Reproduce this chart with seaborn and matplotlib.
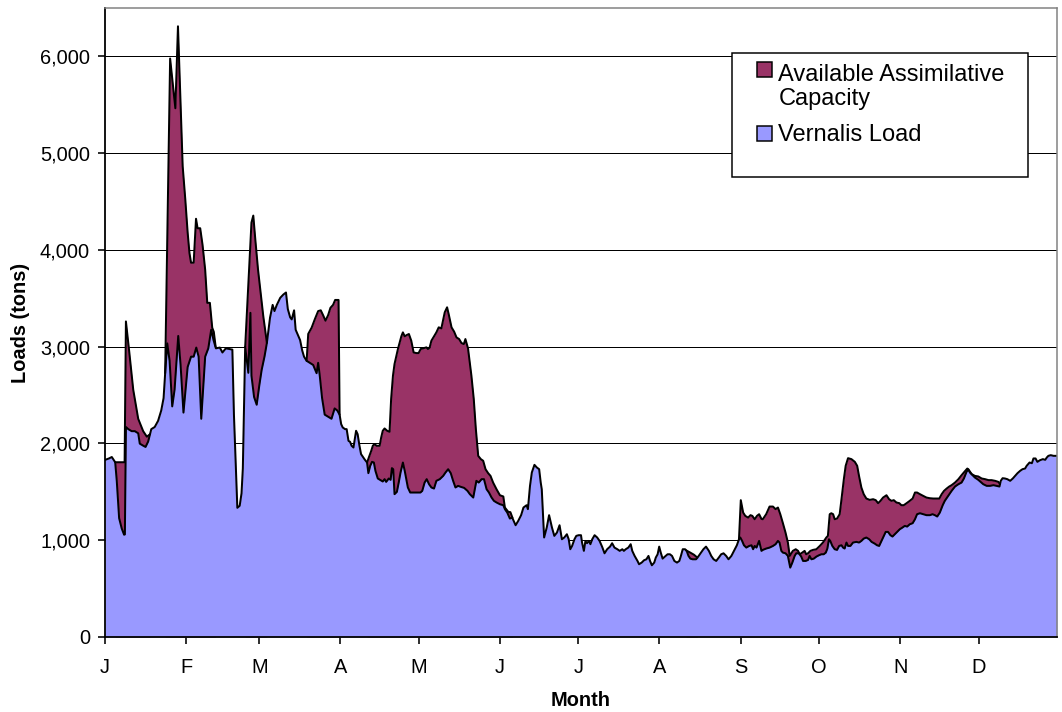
import pandas as pd
import matplotlib
matplotlib.use("Agg")
import matplotlib.pyplot as plt
import seaborn as sns
from matplotlib.patches import Rectangle
from matplotlib.ticker import FuncFormatter

BLUE = "#9999FF"
MAROON = "#993366"

# Vernalis load, tons, by day of year
load_day = [0, 1.5, 2.6, 3.2, 3.9, 4.5, 5.4, 6.4, 7.3, 7.6, 8.0, 8.9, 10.2, 11.4, 12.7, 13.3, 14.6, 15.5,
            16.5, 17.7, 19.0, 20.3, 21.5, 22.4, 23.0, 23.8, 24.7, 25.7, 26.6, 28.0, 28.9, 30.0, 31.6,
            32.9, 33.9, 34.9, 35.8, 36.8, 38.3, 39.5, 40.6, 41.5, 42.4, 43.9, 44.9, 46.2, 48.7, 49.3,
            50.6, 51.5, 52.2, 52.7, 53.6, 54.8, 55.6, 56.0, 57.0, 58.0, 59.0, 59.9, 61.0, 61.9, 63.1,
            64.1, 64.8, 65.7, 67.0, 68.2, 69.2, 69.9, 70.8, 71.4, 72.3, 72.9, 73.6, 74.6, 75.4, 76.1,
            77.1, 78.3, 79.6, 80.9, 81.5, 82.1, 83.0, 84.0, 85.3, 86.6, 87.8, 88.8, 89.7, 90.3, 90.9,
            91.8, 92.4, 93.1, 93.7, 94.3, 95.0, 95.4, 96.0, 96.6, 97.3, 97.9, 99.2, 100.2, 100.7, 101.4,
            102.1, 102.8, 103.4, 104.3, 105.3, 106.2, 106.9, 107.5, 108.5, 109.2, 109.7, 110.2, 110.7,
            111.6, 112.3, 113.0, 113.9, 114.6, 115.2, 115.8, 116.7, 118.0, 119.3, 120.6, 121.3, 122.2,
            123.0, 123.9, 124.8, 125.8, 126.7, 128.0, 129.3, 130.2, 131.2, 132.2, 133.1, 134.0, 135.0,
            136.0, 137.3, 138.6, 139.5, 140.8, 141.4, 142.0, 142.9, 144.0, 144.9, 145.9, 146.8, 147.8,
            148.7, 149.7, 151.0, 152.3, 152.9, 153.8, 154.8, 155.7, 157.0, 158.0, 159.1, 160.0, 161.2,
            161.7, 162.5, 163.2, 164.2, 165.1, 166.0, 166.6, 167.0, 167.9, 168.9, 169.8, 170.9, 171.8,
            172.8, 173.8, 174.7, 175.6, 176.6, 177.3, 177.9, 178.6, 179.5, 180.2, 181.1, 182.0, 182.4,
            183.1, 183.7, 184.3, 185.0, 185.6, 186.3, 187.2, 188.2, 189.1, 190.1, 191.0, 192.0, 193.1,
            193.9, 194.8, 195.9, 196.8, 197.8, 198.4, 199.1, 200.1, 201.0, 201.6, 202.5, 203.6, 204.2,
            205.2, 206.1, 207.0, 207.8, 208.4, 209.1, 210.0, 210.6, 211.3, 211.9, 212.5, 213.2, 214.1,
            215.1, 216.0, 216.8, 217.7, 218.7, 219.6, 220.2, 220.9, 221.8, 222.4, 223.1, 223.8, 224.7,
            226.0, 227.0, 227.9, 228.8, 229.8, 230.9, 231.8, 232.7, 233.7, 234.7, 235.6, 236.5, 237.5,
            238.4, 239.5, 240.5, 241.6, 242.4, 242.9, 243.6, 244.3, 245.2, 246.3, 247.2, 247.8, 248.4,
            249.1, 250.1, 251.0, 251.5, 252.8, 254.1, 255.4, 256.4, 257.3, 257.9, 258.6, 259.2, 260.2,
            261.1, 262.0, 262.8, 263.7, 264.3, 265.3, 266.2, 266.9, 267.9, 268.8, 269.4, 270.1, 271.0,
            272.0, 273.0, 273.9, 274.8, 275.6, 276.2, 276.8, 277.3, 278.1, 279.0, 279.9, 280.7, 281.6,
            282.2, 282.8, 283.5, 284.1, 285.0, 286.0, 287.3, 288.3, 289.2, 290.1, 291.1, 292.2, 293.1,
            294.3, 295.2, 296.0, 296.9, 297.8, 298.5, 299.4, 300.3, 301.1, 302.0, 302.9, 303.9, 304.9,
            305.8, 306.7, 307.7, 308.8, 309.7, 310.5, 311.6, 312.8, 314.1, 315.4, 316.4, 317.3, 318.2,
            319.2, 320.3, 321.1, 322.4, 323.7, 325.0, 326.3, 327.5, 328.4, 329.4, 330.1, 330.7, 331.7,
            332.6, 333.9, 334.8, 335.8, 337.1, 338.4, 339.7, 340.9, 342.0, 342.5, 343.2, 344.1, 345.0,
            346.1, 347.1, 348.0, 348.9, 349.9, 350.8, 351.8, 352.4, 353.5, 354.4, 355.0, 355.8, 356.5,
            357.5, 358.6, 359.5, 360.1, 360.7, 361.6, 362.7, 364.0]
load_tons = [1830, 1845, 1860, 1836, 1806, 1613, 1228, 1121, 1057, 1060, 2170, 2148, 2127, 2127, 2105, 1998, 1977, 1964,
             2020, 2148, 2170, 2234, 2341, 2469, 2726, 3034, 2854, 2383, 2555, 3111, 2811, 2319, 2790,
             2897, 2897, 2991, 2897, 2255, 2897, 2983, 3175, 3068, 2983, 2991, 2940, 2983, 2970, 2298,
             1335, 1356, 1485, 1741, 3000, 2730, 3350, 2700, 2480, 2400, 2600, 2760, 2900, 3040, 3300,
             3432, 3368, 3432, 3505, 3539, 3560, 3389, 3303, 3282, 3376, 3175, 3132, 3068, 2961, 2897,
             2854, 2833, 2811, 2726, 2833, 2704, 2469, 2298, 2276, 2255, 2362, 2341, 2298, 2200, 2165,
             2148, 2148, 2027, 2017, 1976, 1958, 2027, 2131, 2096, 1976, 1890, 1838, 1803, 1693, 1769,
             1810, 1803, 1717, 1638, 1621, 1607, 1631, 1603, 1638, 1624, 1745, 1734, 1476,
             1500, 1596, 1700, 1803, 1717, 1631, 1545, 1493, 1493, 1493, 1493, 1510, 1596,
             1631, 1579, 1545, 1534, 1614, 1631, 1665, 1700, 1734, 1693, 1614, 1545, 1562,
             1552, 1541, 1510, 1476, 1441, 1527, 1614, 1596, 1631, 1631, 1527, 1493, 1441,
             1407, 1390, 1372, 1362, 1321, 1286, 1224, 1234, 1155, 1200, 1259, 1338, 1362,
             1321, 1562, 1700, 1779, 1752, 1734, 1596, 1527, 1028, 1131, 1259, 1131, 1045,
             1079, 1155, 1010, 1028, 1062, 1010, 907, 941, 1010, 1045, 1052, 1052, 976,
             890, 993, 969, 993, 959, 1010, 1052, 1028, 993, 931, 865, 907, 934,
             969, 924, 907, 890, 907, 890, 907, 924, 959, 890, 838, 786, 752,
             769, 793, 803, 838, 786, 741, 769, 821, 855, 934, 872, 810, 831,
             855, 855, 838, 786, 769, 786, 838, 907, 907, 890, 838, 810, 803,
             803, 838, 872, 907, 934, 890, 838, 803, 786, 821, 855, 865, 838,
             803, 838, 890, 948, 1010, 1028, 993, 948, 924, 941, 948, 907, 941,
             924, 993, 890, 900, 914, 924, 941, 959, 993, 976, 890, 872, 865,
             838, 717, 769, 838, 865, 865, 831, 786, 786, 796, 838, 803, 810,
             831, 845, 855, 855, 872, 914, 1010, 993, 941, 907, 900, 941, 948,
             924, 914, 976, 941, 941, 976, 983, 976, 993, 1017, 1028, 1010, 983,
             965, 948, 941, 993, 1045, 1086, 1086, 1052, 1038, 1062, 1086, 1114, 1131,
             1148, 1141, 1165, 1176, 1217, 1269, 1279, 1269, 1259, 1259, 1269, 1259, 1245,
             1286, 1362, 1407, 1459, 1510, 1555, 1579, 1596, 1638, 1707, 1734, 1700, 1672,
             1648, 1624, 1603, 1579, 1562, 1562, 1569, 1562, 1555, 1614, 1641, 1638, 1631,
             1614, 1638, 1665, 1693, 1717, 1734, 1741, 1769, 1803, 1796, 1845, 1845, 1810,
             1827, 1838, 1831, 1855, 1872, 1879, 1872, 1872]

# top of the assimilative capacity band where it shows above the load; None splits the stretches
cap_day = [3.9, 7.5, 8.0, 9.3, 10.8, 12.7, 14.6, 16.0, 17.2, None,
           23.0, 24.9, 26.9, 27.9, 29.7, 30.7, 31.6, 32.3, 32.9, 33.9, 34.8, 35.4, 36.4, 37.3, 38.3,
           39.1, 40.1, 41.0, 41.6, 42.3, None,
           53.6, 56.0, 56.7, 57.5, 58.5, 59.5, 60.5, 61.3, 61.9, None,
           77.1, 77.7, 79.0, 80.2, 81.5, 82.5, 83.4, 84.3, 85.3, 86.2, 87.2, 88.0, 89.3, 89.7, None,
           100.2, 101.1, 101.8, 102.4, 103.0, 103.9, 105.0, 105.6, 106.2, 106.9, 107.9, 108.8, 109.4,
           110.1, 110.7, 112.0, 113.3, 113.9, 114.6, 115.4, 116.2, 117.1, 118.0, 119.0, 119.9, 120.7,
           121.6, 122.9, 123.5, 124.1, 124.8, 125.8, 126.7, 127.6, 128.6, 129.9, 130.8, 131.4, 132.5,
           133.5, 134.4, 135.4, 136.3, 137.2, 137.8, 138.8, 140.1, 141.0, 141.8, 142.7, 143.7, 144.6,
           145.5, 146.5, 147.4, 148.4, 149.7, 151.0, 152.3, 152.9, 154.2, 155.0, 155.8, None,
           222.2, 223.6, 225.2, 226.5, None,
           242.4, 243.1, 244.0, 244.8, 245.9, 246.8, 247.5, 248.4, 249.3, 250.1, 251.0, 251.5, 252.8,
           254.1, 255.4, 256.4, 257.3, 258.2, 259.2, 260.2, 261.1, 261.8, 263.0, 264.1, 265.0, 265.6,
           266.6, 267.5, 268.1, 268.8, 269.7, 270.7, 272.0, 273.3, 274.5, 275.8, 276.4, 277.1, 277.7,
           278.4, 279.0, 279.9, 280.9, 281.6, 282.5, 283.2, 284.1, 285.4, 286.7, 287.6, 288.3, 289.2,
           290.1, 291.1, 292.4, 293.7, 294.7, 295.6, 296.5, 297.5, 298.8, 299.8, 300.7, 301.6, 302.6,
           303.7, 304.5, 305.4, 306.5, 307.7, 308.8, 309.7, 310.5, 311.6, 312.8, 314.1, 315.4, 316.7,
           318.0, 319.0, 319.9, 320.8, 321.8, 322.8, 323.7, 325.0, 326.3, 327.5, 328.6, 329.7, 330.5,
           331.4, 332.6, 333.9, 335.2, 336.5, 337.8, 339.0, 340.3, 341.6, 342.2]
cap_tons = [1806, 1806, 3261, 2940, 2555, 2255, 2127, 2070, 2095, None,
            2726, 5978, 5464, 6311, 4865, 4523, 4180, 3967, 3868, 3868, 4322, 4224, 4224, 4052, 3796,
            3453, 3453, 3196, 3153, 3000, None,
            3000, 4283, 4355, 4100, 3800, 3560, 3320, 3160, 3040, None,
            2854, 3132, 3196, 3282, 3368, 3376, 3325, 3269, 3325, 3402, 3432, 3483, 3483, 2298, None,
            1803, 1872, 1924, 1976, 1993, 1976, 1976, 2062, 2131, 2155, 2131, 2121, 2459,
            2700, 2821, 2976, 3107, 3148, 3107, 3121, 3131, 3062, 2941, 2934, 2934, 2976,
            2983, 2993, 2976, 2989, 3062, 3107, 3148, 3200, 3189, 3355, 3407, 3338, 3200,
            3155, 3096, 3079, 3038, 3027, 3079, 2983, 2700, 2459, 2148, 1872, 1838, 1821,
            1734, 1693, 1665, 1596, 1527, 1465, 1452, 1338, 1293, 1290, 1232, None,
            895, 875, 850, 820, None,
            1010, 1414, 1286, 1252, 1234, 1259, 1252, 1217, 1252, 1269, 1220, 1217, 1269,
            1348, 1348, 1321, 1338, 1269, 1176, 1079, 976, 838, 890, 907, 890, 855,
            872, 890, 855, 865, 890, 900, 907, 941, 976, 1028, 1045, 1269, 1279,
            1269, 1217, 1224, 1269, 1424, 1631, 1769, 1848, 1838, 1810, 1769, 1665, 1545,
            1476, 1431, 1417, 1424, 1414, 1383, 1407, 1441, 1465, 1424, 1407, 1414, 1390,
            1383, 1362, 1362, 1383, 1407, 1431, 1493, 1493, 1476, 1459, 1441, 1434, 1431,
            1431, 1431, 1476, 1510, 1534, 1555, 1569, 1596, 1631, 1672, 1707, 1741, 1717,
            1683, 1665, 1659, 1638, 1631, 1621, 1621, 1614, 1603, 1580]

month_start = [0, 31, 59, 90, 120, 151, 181, 212, 243, 273, 304, 334]
month_label = ["J", "F", "M", "A", "M", "J", "J", "A", "S", "O", "N", "D"]
y_ticks = [0, 1000, 2000, 3000, 4000, 5000, 6000]

sns.set_theme(style="white", rc={"text.color": "black", "axes.labelcolor": "black",
                                 "xtick.color": "black", "ytick.color": "black"})
plt.rcParams["font.family"] = ["Liberation Sans", "DejaVu Sans"]

load = pd.DataFrame({"day": load_day, "tons": load_tons})
cap = pd.DataFrame({"day": cap_day, "tons": cap_tons}, dtype=float)
cap["seg"] = cap["day"].isna().cumsum()
cap = cap.dropna()

fig = plt.figure(figsize=(1062 / 144, 712 / 144), dpi=144)
ax = fig.add_axes([105 / 1062, 75 / 712, 952 / 1062, 629 / 712])

for _, g in cap.groupby("seg"):
    ax.fill_between(g["day"], 0, g["tons"], color=MAROON, lw=0, zorder=2)
ax.fill_between(load["day"], 0, load["tons"], color=BLUE, lw=0, zorder=3)
sns.lineplot(data=cap, x="day", y="tons", units="seg", estimator=None, sort=False,
             color="black", lw=1.0, ax=ax, zorder=4)
sns.lineplot(data=load, x="day", y="tons", estimator=None, sort=False,
             color="black", lw=1.0, ax=ax, zorder=4)

ax.set_xlim(0, 364)
ax.set_ylim(0, 6500)
ax.set_xticks(month_start)
ax.set_xticklabels(month_label)
ax.set_yticks(y_ticks)
ax.yaxis.set_major_formatter(FuncFormatter(lambda v, p: f"{int(v):,}"))
ax.set_axisbelow(True)
ax.yaxis.grid(True, color="black", lw=0.5)
ax.xaxis.grid(False)
ax.tick_params(axis="both", bottom=True, left=True, direction="out", length=3.5,
               width=0.8, labelsize=10)
ax.tick_params(axis="x", pad=7)
ax.tick_params(axis="y", pad=4)

for side in ["left", "bottom"]:
    ax.spines[side].set_color("black")
    ax.spines[side].set_linewidth(0.9)
    ax.spines[side].set_zorder(6)
for side in ["top", "right"]:
    ax.spines[side].set_color("#808080")
    ax.spines[side].set_linewidth(0.75)
    ax.spines[side].set_zorder(6)

ax.set_xlabel("Month", fontsize=10, fontweight="bold")
ax.set_ylabel("Loads (tons)", fontsize=10, fontweight="bold")
ax.xaxis.set_label_coords(0.5, -0.0858)
ax.yaxis.set_label_coords(-0.079, 0.5)

# legend box drawn by hand, the way the original sits
ax.add_patch(Rectangle((0.6583, 0.7318), 0.3109, 0.1971, transform=ax.transAxes,
                       facecolor="white", edgecolor="black", lw=0.75, zorder=7))
ax.add_patch(Rectangle((0.6852, 0.8898), 0.01576, 0.02385, transform=ax.transAxes,
                       facecolor=MAROON, edgecolor="black", lw=0.75, zorder=8))
ax.add_patch(Rectangle((0.6852, 0.7886), 0.01576, 0.02385, transform=ax.transAxes,
                       facecolor=BLUE, edgecolor="black", lw=0.75, zorder=8))
ax.text(0.7073, 0.8458, "Available Assimilative\nCapacity", transform=ax.transAxes,
        fontsize=11.8, va="baseline", ha="left", linespacing=1.12, zorder=9)
ax.text(0.7073, 0.7886, "Vernalis Load", transform=ax.transAxes,
        fontsize=11.8, va="baseline", ha="left", zorder=9)

fig.savefig("out.png", dpi=144)
